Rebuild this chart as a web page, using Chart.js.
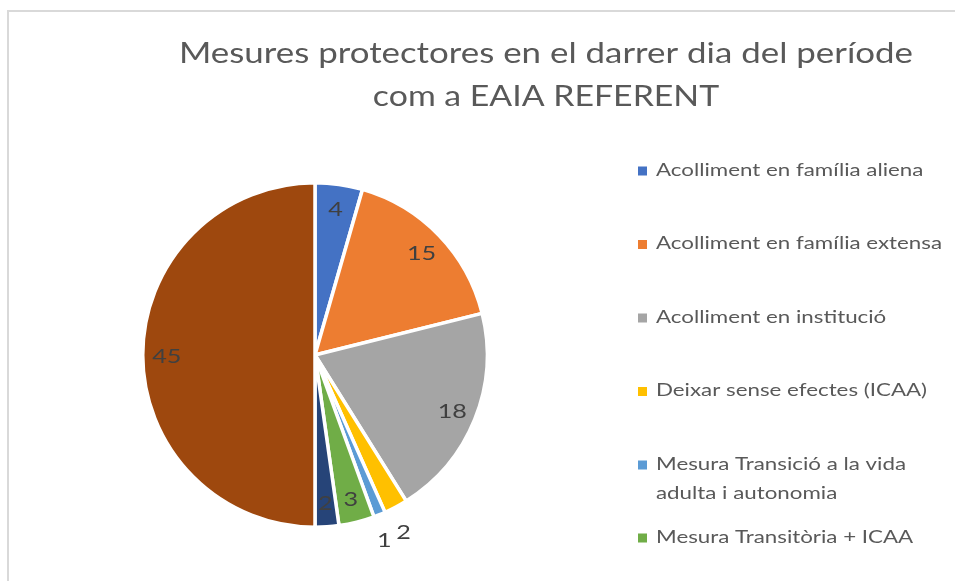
<!DOCTYPE html>
<html>
<head>
<meta charset="utf-8">
<script src="https://cdn.jsdelivr.net/npm/chart.js@4"></script>
<style>
  html, body { margin: 0; padding: 0; background: #ffffff; }
  #wrap { position: relative; width: 955px; height: 581px; }
</style>
</head>
<body>
<div id="wrap"><canvas id="c" width="955" height="581"></canvas></div>
<script>
const chartTitle = ["Mesures protectores en el darrer dia del període", "com a EAIA REFERENT"];
const categories = [
  "Acolliment en família aliena",
  "Acolliment en família extensa",
  "Acolliment en institució",
  "Deixar sense efectes (ICAA)",
  "Mesura Transició a la vida adulta i autonomia",
  "Mesura Transitòria + ICAA",
  "Mesura Transitòria",
  "Sense mesura"
];
const values = [4, 15, 18, 2, 1, 3, 2, 45];
const colors = ["#4472C4", "#ED7D31", "#A5A5A5", "#FFC000", "#5B9BD5", "#70AD47", "#264478", "#9E480E"];

const FONT = "Lato, 'Open Sans', sans-serif";
const SX = 1.26; // horizontal text stretch (reference glyphs are wide)

function stretchedText(ctx, text, x, y, sx) {
  ctx.save();
  ctx.translate(x, y);
  ctx.scale(sx, 1);
  ctx.fillText(text, 0, 0);
  ctx.restore();
}

const framePlugin = {
  id: 'frame',
  beforeDraw(chart) {
    const ctx = chart.ctx;
    ctx.save();
    ctx.fillStyle = '#ffffff';
    ctx.fillRect(0, 0, chart.width, chart.height);
    ctx.strokeStyle = '#d9d9d9';
    ctx.lineWidth = 2;
    ctx.beginPath();
    ctx.moveTo(8, chart.height);
    ctx.lineTo(8, 11);
    ctx.lineTo(chart.width, 11);
    ctx.stroke();
    // title
    ctx.fillStyle = '#595959';
    ctx.font = "400 28px " + FONT;
    ctx.textAlign = 'center';
    ctx.textBaseline = 'alphabetic';
    const w0 = ctx.measureText(chartTitle[0]).width;
    const s = 734 / w0;
    stretchedText(ctx, chartTitle[0], 546, 63, s);
    stretchedText(ctx, chartTitle[1], 546, 106, s * 0.97);
    ctx.restore();
  }
};

const labelPlugin = {
  id: 'sliceLabels',
  afterDatasetsDraw(chart, args, opts) {
    const ctx = chart.ctx;
    const meta = chart.getDatasetMeta(0);
    const data = chart.data.datasets[0].data;
    ctx.save();
    ctx.font = "20px " + FONT;
    ctx.fillStyle = '#404040';
    ctx.textAlign = 'center';
    ctx.textBaseline = 'alphabetic';
    meta.data.forEach((arc, i) => {
      const p = arc.getProps(['x', 'y', 'startAngle', 'endAngle', 'outerRadius'], true);
      const out = opts.outside.includes(i);
      const mid = (p.startAngle + p.endAngle) / 2 + (opts.angleShift[i] || 0);
      const r = p.outerRadius * (out ? 1.16 : 0.86);
      stretchedText(ctx, String(data[i]), p.x + Math.cos(mid) * r, p.y + Math.sin(mid) * r + (out ? 5 : 7.5), SX);
    });
    ctx.restore();
  }
};

const legendPlugin = {
  id: 'sideLegend',
  afterDraw(chart, args, opts) {
    const ctx = chart.ctx;
    const labels = chart.data.labels;
    const bg = chart.data.datasets[0].backgroundColor;
    ctx.save();
    ctx.font = "18px " + FONT;
    ctx.textBaseline = 'alphabetic';
    ctx.textAlign = 'left';
    const x0 = opts.x, tx = opts.textX, maxW = opts.maxW;
    let y = opts.top;
    labels.forEach((lab, i) => {
      const words = lab.split(' ');
      const lines = [];
      let cur = '';
      words.forEach(w => {
        const t = cur ? cur + ' ' + w : w;
        if (ctx.measureText(t).width > maxW && cur) { lines.push(cur); cur = w; }
        else cur = t;
      });
      lines.push(cur);
      if (y > chart.height) return;
      ctx.fillStyle = bg[i];
      ctx.fillRect(x0, y - 4.5, 9, 9);
      ctx.fillStyle = '#595959';
      lines.forEach((ln, k) => stretchedText(ctx, ln, tx, y + 4.5 + k * opts.lineH, SX - 0.02));
      y += (lines.length - 1) * opts.lineH + (lines.length > 1 ? opts.stepAfterMulti : opts.step);
    });
    ctx.restore();
  }
};

new Chart(document.getElementById('c'), {
  type: 'pie',
  data: {
    labels: categories,
    datasets: [{
      data: values,
      backgroundColor: colors,
      borderColor: '#ffffff',
      borderWidth: 3.5,
      hoverOffset: 0
    }]
  },
  options: {
    responsive: false,
    animation: false,
    events: [],
    layout: { padding: { left: 141, top: 181, right: 955 - 489, bottom: 581 - 529 } },
    plugins: {
      legend: { display: false },
      title: { display: false },
      tooltip: { enabled: false },
      sliceLabels: { outside: [3, 4], angleShift: { 3: 0.03, 4: 0.03 } },
      sideLegend: { x: 638, textX: 656, top: 171, step: 73.5, lineH: 29, stepAfterMulti: 44, maxW: 240 }
    }
  },
  plugins: [framePlugin, labelPlugin, legendPlugin]
});
</script>
</body>
</html>
